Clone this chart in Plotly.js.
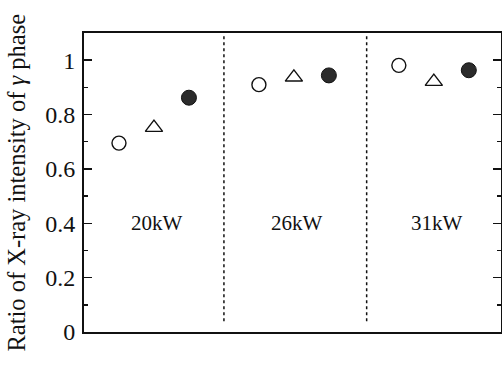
<!DOCTYPE html>
<html>
<head>
<meta charset="utf-8">
<script src="https://cdn.plot.ly/plotly-3.0.1.min.js"></script>
<style>html,body{margin:0;padding:0;background:#fff;}#chart{width:502px;height:369px;}</style>
</head>
<body>
<div id="chart"></div>
<script>
var groups = ['20kW', '26kW', '31kW'];
var groupPos = [1, 2, 3];
var openCircle = [0.695, 0.910, 0.981];
var openTriangle = [0.752, 0.937, 0.921];
var filledCircle = [0.862, 0.944, 0.963];
var offsets = [-0.25, 0, 0.25];
var dividers = [1.5, 2.52];
var labelY = 0.4;

function shift(arr, d) { return arr.map(function (v) { return v + d; }); }

var traces = [
  {x: shift(groupPos, offsets[0]), y: openCircle, mode: 'markers', type: 'scatter',
   marker: {symbol: 'circle-open', size: 14, color: '#111', line: {width: 1.4, color: '#111'}}},
  {x: shift(groupPos, offsets[1]), y: openTriangle, mode: 'markers', type: 'scatter',
   marker: {symbol: 'triangle-up-open', size: 15, color: '#111', line: {width: 1.4, color: '#111'}}},
  {x: shift(groupPos, offsets[2]), y: filledCircle, mode: 'markers', type: 'scatter',
   marker: {symbol: 'circle', size: 15, color: '#2b2b2b', line: {width: 1, color: '#111'}}}
];

var shapes = dividers.map(function (d) {
  return {type: 'line', xref: 'x', yref: 'y', x0: d, x1: d, y0: 0.04, y1: 1.09,
          line: {color: '#111', width: 1.5, dash: 'dot'}};
});

var annotations = groups.map(function (g, i) {
  return {x: groupPos[i] + 0.02, y: labelY, xref: 'x', yref: 'y', text: g, showarrow: false,
          font: {family: 'Liberation Serif', size: 21, color: '#111'}};
});
annotations.push({
  x: -0.163, y: 0.5, xref: 'paper', yref: 'paper', textangle: -90, showarrow: false,
  xanchor: 'center', yanchor: 'middle',
  text: 'Ratio of X-ray intensity of <i>γ</i> phase',
  font: {family: 'Liberation Serif', size: 24.5, color: '#111'}
});

var layout = {
  width: 502, height: 369,
  margin: {l: 84, r: 1, t: 33, b: 37},
  paper_bgcolor: '#fff', plot_bgcolor: '#fff',
  showlegend: false,
  xaxis: {range: [0.5, 3.48], showticklabels: false, ticks: '', showgrid: false, zeroline: false,
          showline: true, mirror: true, linecolor: '#111', linewidth: 2},
  yaxis: {range: [0, 1.1], tickvals: [0, 0.2, 0.4, 0.6, 0.8, 1], ticktext: ['0', '0.2', '0.4', '0.6', '0.8', '1'],
          ticks: 'inside', ticklen: 8, tickwidth: 1.5, tickcolor: '#111',
          minor: {dtick: 0.1, tick0: 0, ticks: 'inside', ticklen: 4, tickwidth: 1.5, tickcolor: '#111'},
          showgrid: false, zeroline: false, showline: true, mirror: 'allticks', linecolor: '#111', linewidth: 2,
          tickfont: {family: 'Liberation Serif', size: 24, color: '#111'}, ticklabelstandoff: 2},
  shapes: shapes,
  annotations: annotations
};

Plotly.newPlot('chart', traces, layout, {displayModeBar: false, staticPlot: true});
</script>
</body>
</html>
